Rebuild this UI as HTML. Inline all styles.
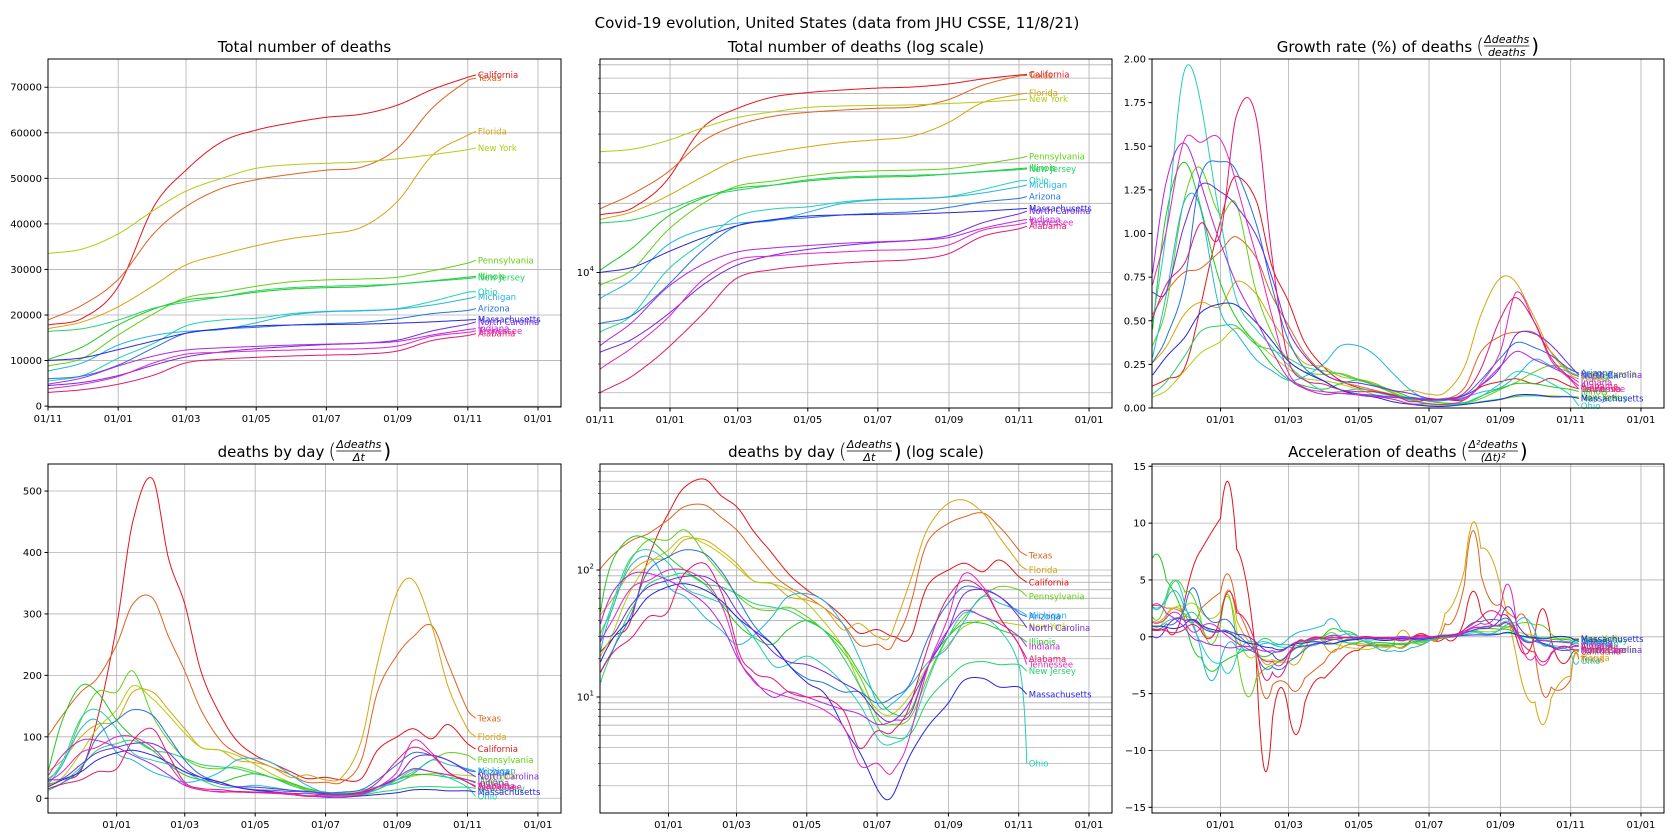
<!DOCTYPE html>
<html><head><meta charset="utf-8"><title>Covid-19 evolution</title>
<style>
html,body{margin:0;padding:0;background:#fff;width:1675px;height:840px;overflow:hidden}
svg{display:block;font-family:"DejaVu Sans","Liberation Sans",sans-serif}
</style></head>
<body>
<svg id="fig" width="1675" height="840" viewBox="0 0 1675 840">
<text x="837" y="28" text-anchor="middle" font-size="15" fill="#000">Covid-19 evolution, United States (data from JHU CSSE, 11/8/21)</text>
</svg>
<script>
// ---- data ----
const states = ["California","Texas","Florida","New York","Pennsylvania","Illinois","New Jersey","Ohio","Michigan","Arizona","Massachusetts","North Carolina","Indiana","Tennessee","Alabama"];
const colors = ["#e3141c","#e0621e","#d6a50e","#b2cc12","#62d014","#22c822","#22d468","#20d0b4","#22b4e2","#2272e2","#2626e0","#7028e2","#b424e2","#e224c4","#e21870"];
// day offsets from 2020-11-01 for daily-rate knots
const dailyDays = [1,14,30,44,61,75,92,106,120,134,151,165,181,195,212,226,242,256,273,287,304,318,334,348,365,372];
const dailyCA = [22,30,45,127,281,450,520,390,316,207,135,94,70,58,43,32,34,30,32,78,100,113,97,120,89,80];
const dailyTX = [100,135,173,195,250,316,326,263,207,144,94,74,62,51,38,26,26,26,62,173,233,263,281,220,144,130];
const dailyFL = [43,62,100,120,127,173,173,144,113,83,78,62,58,51,34,38,30,34,94,220,335,355,281,183,113,100];
const dailyNY = [20,34,74,113,144,183,162,135,106,83,78,70,55,40,25,13,8,7.4,11,18,26,36,40,39,37,36];
const dailyPA = [30,55,127,173,173,207,135,94,65,51,48,51,43,34,23,15,7,6.1,7.4,15,30,43,62,74,70,62];
const dailyIL = [40,127,183,173,127,100,78,55,38,30,26,34,40,34,25,16,10,7.4,8.4,18,30,38,38,34,30,27];
const dailyNJ = [12,25,51,78,89,94,78,74,65,55,51,48,40,34,21,12.6,6,4.8,5.4,9.6,14,18,19,18,18,16];
const dailyOH = [25,60,130,144,113,74,62,55,43,30,18,18,21,18,13,9,4.8,4.3,6.1,14,30,46,43,34,18,3];
const dailyMI = [20,55,113,127,74,62,43,34,26,30,43,62,65,58,38,21,9,9,13,19,25,40,62,55,48,44];
const dailyAZ = [15,25,48,100,127,144,135,100,62,38,26,18,14,13,11,11,9,10,14,30,55,74,70,62,46,43];
const dailyMA = [18,30,43,62,74,78,70,58,43,34,26,18,13,11,6,3.8,1.9,1.7,3.8,6,9,13.6,14,12,12,10.5];
const dailyNC = [30,32,55,74,83,89,89,74,48,34,23,19,18,16,13,11,7.4,6.5,10,18,34,65,70,62,43,35];
const dailyIN = [35,70,94,94,83,70,55,38,21,14,10,11,10,9,8,7.4,6.1,6.5,8,18,34,48,43,38,30,25];
const dailyTN = [26,43,74,83,100,100,83,55,23,13.6,11,10,9,8,6,3,3,2.6,6,18,43,94,74,43,26,18];
const dailyAL = [15,23,30,43,48,94,113,70,26,16,14,11,10,10,8,4,5.4,5.4,10,26,62,83,70,43,26,20];
// cumulative deaths knots (monthly)
const cumDays = [0,30,61,92,120,151,181,212,242,273,304,334,365,372];
const cumCA = [17800,19300,26200,43800,51800,58000,60600,62200,63400,64100,66100,69500,72200,72700];
const cumTX = [18900,22200,27800,37900,43800,47800,49700,50900,51800,52500,56600,65400,71500,72000];
const cumFL = [17000,18500,21800,26500,31000,33300,35200,36800,37800,39300,45000,55000,59500,60300];
const cumNY = [33500,34500,37800,43000,47200,50000,52200,53000,53300,53600,54300,55200,56300,56700];
const cumPA = [8800,10500,15600,20300,23800,25000,26300,27300,27700,27900,28300,29700,31400,32000];
const cumIL = [10200,13000,17800,21300,23300,24000,25000,25700,26000,26200,26800,27500,28300,28500];
const cumNJ = [16400,17000,18900,21500,22800,24000,25300,26000,26300,26500,26800,27400,28000,28200];
const cumOH = [5500,6700,10500,13800,17600,18900,19300,20300,20800,21000,21400,23000,25000,25100];
const cumMI = [7700,9500,13400,15500,16400,16800,18300,20000,20700,20900,21300,22200,23600,24000];
const cumAZ = [6000,6600,9000,12800,16000,16900,17300,17800,18100,18400,19200,20300,21000,21400];
const cumMA = [10000,10600,12400,14300,16000,17000,17600,17800,17900,18000,18200,18500,18900,19000];
const cumNC = [4500,5200,6700,9000,10800,11900,12600,13100,13500,13800,14500,16500,18000,18500];
const cumIN = [4800,6200,8800,11000,12300,12800,13100,13400,13600,13800,14200,15600,16800,17000];
const cumTN = [3800,4800,6500,9500,11400,11800,12100,12300,12500,12600,13200,15300,16200,16500];
const cumAL = [3000,3600,4800,6800,9500,10300,10700,11000,11200,11400,12100,14400,15500,15900];
const dailyAll = [dailyCA,dailyTX,dailyFL,dailyNY,dailyPA,dailyIL,dailyNJ,dailyOH,dailyMI,dailyAZ,dailyMA,dailyNC,dailyIN,dailyTN,dailyAL];
const cumAll = [cumCA,cumTX,cumFL,cumNY,cumPA,cumIL,cumNJ,cumOH,cumMI,cumAZ,cumMA,cumNC,cumIN,cumTN,cumAL];
const xTickDays = [0,61,120,181,242,304,365,426];
const xTickLabels = ["01/11","01/01","01/03","01/05","01/07","01/09","01/11","01/01"];

// ---- helpers ----
const NS = "http://www.w3.org/2000/svg";
const fig = document.getElementById("fig");
function mk(tag, attrs, parent){const e=document.createElementNS(NS,tag);for(const k in attrs)e.setAttribute(k,attrs[k]);(parent||fig).appendChild(e);return e;}
function herm(xs, ys, t){
  const n=xs.length;
  if(t<=xs[0]) t=xs[0]; if(t>=xs[n-1]) t=xs[n-1];
  let i=0; while(i<n-2 && t>xs[i+1]) i++;
  const tan=j=>{ if(j===0) return (ys[1]-ys[0])/(xs[1]-xs[0]); if(j===n-1) return (ys[n-1]-ys[n-2])/(xs[n-1]-xs[n-2]); return (ys[j+1]-ys[j-1])/(xs[j+1]-xs[j-1]); };
  const x0=xs[i],x1=xs[i+1],h=x1-x0,s=(t-x0)/h,y0=ys[i],y1=ys[i+1],m0=tan(i),m1=tan(i+1);
  const v=(2*s*s*s-3*s*s+1)*y0+(s*s*s-2*s*s+s)*h*m0+(-2*s*s*s+3*s*s)*y1+(s*s*s-s*s)*h*m1;
  const d=((6*s*s-6*s)*y0+(3*s*s-4*s+1)*h*m0+(-6*s*s+6*s)*y1+(3*s*s-2*s)*h*m1)/h;
  return {v,d};
}
let clipId=0;
function panel(o){
  const g=mk("g",{});
  
  
  const X=d=>o.x0+(d-o.d0)/(o.d1-o.d0)*(o.x1-o.x0);
  const Y=v=>{ if(o.log){return o.y1-(Math.log10(v)-Math.log10(o.ymin))/(Math.log10(o.ymax)-Math.log10(o.ymin))*(o.y1-o.y0);} return o.y1-(v-o.ymin)/(o.ymax-o.ymin)*(o.y1-o.y0); };
  const grid=mk("g",{stroke:"#b0b0b0","stroke-width":"0.8"},g);
  
  
  xTickDays.forEach(d=>{ if(d>=o.d0&&d<=o.d1){ mk("line",{x1:X(d),x2:X(d),y1:o.y0,y2:o.y1},grid);} });
  if(o.hgrid){ (o.minor||[]).concat(o.yticks.map(t=>t.v)).forEach(v=>{ if(v>=o.ymin&&v<=o.ymax){ mk("line",{x1:o.x0,x2:o.x1,y1:Y(v),y2:Y(v)},grid);} }); }
  const id="clip"+(clipId++);
  const cp=mk("clipPath",{id},g); mk("rect",{x:o.x0,y:o.y0,width:o.x1-o.x0,height:o.y1-o.y0},cp);
  const sg=mk("g",{"clip-path":"url(#"+id+")",fill:"none","stroke-width":"1"},g);
  states.forEach((st,si)=>{
    const pts=[]; let last=null;
    for(let d=o.s0; d<=372; d+=0.5){ let v=o.fn(si,d); if(o.log) v=Math.max(v,o.ymin*1.05); pts.push(X(d).toFixed(1)+","+Y(v).toFixed(1)); last=v; }
    const p=mk("polyline",{points:pts.join(" "),stroke:colors[si]},sg);
    
    
    if(o.labels){
      const t=mk("text",{x:X(372)+2,y:Y(last)+3,fill:colors[si],"font-size":"8.5"},g);
      t.textContent=st;
      
      
    }
  });
  const sp=mk("rect",{x:o.x0,y:o.y0,width:o.x1-o.x0,height:o.y1-o.y0,fill:"none",stroke:"#000","stroke-width":"1"},g);
  
  
  xTickDays.forEach((d,i)=>{ if(d>=o.d0&&d<=o.d1){ mk("line",{x1:X(d),x2:X(d),y1:o.y1,y2:o.y1+3.5,stroke:"#000"},g);
    const t=mk("text",{x:X(d),y:o.y1+15,"text-anchor":"middle","font-size":"10",fill:"#000"},g); t.textContent=xTickLabels[i];
    
     } });
  o.yticks.forEach(tk=>{ const y=Y(tk.v); mk("line",{x1:o.x0-3.5,x2:o.x0,y1:y,y2:y,stroke:"#000"},g);
    const t=mk("text",{x:o.x0-6,y:y+3.5,"text-anchor":"end","font-size":"10",fill:"#000"},g);
    if(tk.sup){ t.textContent=tk.label; const s=mk("tspan",{"font-size":"7",dy:"-5"},t); s.textContent=tk.sup; } else t.textContent=tk.label;
    
     });
  (o.minor||[]).forEach(v=>{ if(v>=o.ymin&&v<=o.ymax){ const y=Y(v); mk("line",{x1:o.x0-2,x2:o.x0,y1:y,y2:y,stroke:"#000","stroke-width":"0.6"},g);} });
  title(g,(o.x0+o.x1)/2,o.y0-7,o.title,o.frac,o.after);
}
function title(g,cx,by,main,frac,after){
  const tg=mk("g",{},g);
  
  
  const t=mk("text",{x:0,y:by,"font-size":"15",fill:"#000"},tg); t.textContent=main;
  let w=t.getComputedTextLength();
  if(frac){
    const lp=mk("text",{x:w+4,y:by+1,"font-size":"20","font-weight":"100",fill:"#000"},tg); lp.textContent="(";
    const fx=w+12;
    const n=mk("text",{x:0,y:by-9,"font-size":"11",fill:"#000","font-style":"italic"},tg); n.textContent=frac[0];
    const d=mk("text",{x:0,y:by+4,"font-size":"11",fill:"#000","font-style":"italic"},tg); d.textContent=frac[1];
    const fw=Math.max(n.getComputedTextLength(),d.getComputedTextLength());
    n.setAttribute("x",fx+(fw-n.getComputedTextLength())/2); d.setAttribute("x",fx+(fw-d.getComputedTextLength())/2);
    mk("line",{x1:fx,x2:fx+fw,y1:by-6,y2:by-6,stroke:"#000","stroke-width":"0.8"},tg);
    const rp=mk("text",{x:fx+fw+2,y:by+1,"font-size":"20",fill:"#000"},tg); rp.textContent=")";
    w=fx+fw+10;
    if(after){ const a=mk("text",{x:w+4,y:by,"font-size":"15",fill:"#000"},tg); a.textContent=after; w+=4+a.getComputedTextLength(); }
  }
  tg.setAttribute("transform","translate("+(cx-w/2)+",0)");
}
const cumF=(si,d)=>herm(cumDays,cumAll[si],d).v;
const dayF=(si,d)=>Math.max(herm(dailyDays,dailyAll[si],d).v,0.5);
const growF=(si,d)=>dayF(si,d)/cumF(si,d)*100;
const accF=(si,d)=>herm(dailyDays,dailyAll[si],d).d;
const lin=(a,b,s)=>{const r=[];for(let v=a;v<=b;v+=s)r.push({v,label:String(v)});return r;};
const m1=[],m2=[];
[3000,4000,5000,6000,7000,8000,9000,20000,30000,40000,50000,60000,70000,80000].forEach(v=>m1.push(v));
[2,3,4,5,6,7,8,9,20,30,40,50,60,70,80,90,200,300,400,500,600].forEach(v=>m2.push(v));

panel({name:"total-deaths-panel",title:"Total number of deaths",x0:48,x1:561,y0:59,y1:407,d0:0,d1:446,s0:0,ymin:-200,ymax:76200,hgrid:true,yticks:lin(0,70000,10000),fn:cumF,labels:true});
panel({name:"total-deaths-log-panel",title:"Total number of deaths (log scale)",x0:600,x1:1112,y0:59,y1:408,d0:0,d1:446,s0:0,log:true,ymin:2576,ymax:84800,hgrid:true,yticks:[{v:10000,label:"10",sup:"4"}],minor:m1,fn:cumF,labels:true});
panel({name:"growth-rate-panel",title:"Growth rate (%) of deaths",frac:["\u0394deaths","deaths"],x0:1152,x1:1664,y0:59,y1:408,d0:1.5,d1:446,s0:2,ymin:0,ymax:2,hgrid:false,yticks:[0,0.25,0.5,0.75,1,1.25,1.5,1.75,2].map(v=>({v,label:v.toFixed(2)})),fn:growF,labels:true});
panel({name:"daily-deaths-panel",title:"deaths by day",frac:["\u0394deaths","\u0394t"],x0:48,x1:561,y0:464,y1:813,d0:1.5,d1:446,s0:2,ymin:-24,ymax:544,hgrid:true,yticks:lin(0,500,100),fn:dayF,labels:true});
panel({name:"daily-deaths-log-panel",title:"deaths by day",frac:["\u0394deaths","\u0394t"],after:"(log scale)",x0:600,x1:1112,y0:464,y1:813,d0:1.5,d1:446,s0:2,log:true,ymin:1.22,ymax:684,hgrid:true,yticks:[{v:10,label:"10",sup:"1"},{v:100,label:"10",sup:"2"}],minor:m2,fn:dayF,labels:true});
panel({name:"acceleration-panel",title:"Acceleration of deaths",frac:["\u0394\u00b2deaths","(\u0394t)\u00b2"],x0:1152,x1:1664,y0:464,y1:813,d0:1.5,d1:446,s0:2,ymin:-15.5,ymax:15.2,hgrid:true,yticks:[-15,-10,-5,0,5,10,15].map(v=>({v,label:(v<0?"\u2212"+(-v):String(v))})),fn:accF,labels:true});
</script>
</body></html>
